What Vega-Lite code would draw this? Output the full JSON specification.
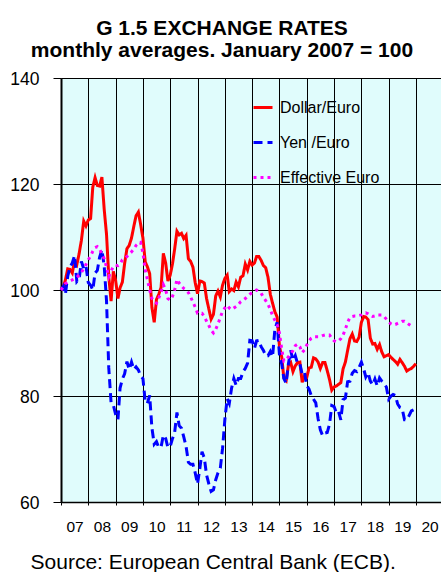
{
"$schema": "https://vega.github.io/schema/vega-lite/v6.json",
"width": 380,
"height": 424,
"autosize": {"type": "none"},
"padding": {"left": 61, "top": 78, "right": 0, "bottom": 70},
"background": "white",
"config": {"view": {"fill": "#e0fcfc", "stroke": null}, "font": "Liberation Sans"},
"title": {"text": ["G 1.5 EXCHANGE RATES", "monthly averages. January 2007 = 100"], "anchor": "start", "align": "center", "frame": "group", "dx": 161, "offset": 9, "font": "Liberation Sans", "fontSize": 21, "fontWeight": "bold", "color": "black", "lineHeight": 22.4},
"data": {"values": [
{"month":"2007-01","Dollar/Euro":100.0,"Yen /Euro":100.0,"Effective Euro":100.0},
{"month":"2007-02","Dollar/Euro":100.6,"Yen /Euro":100.7,"Effective Euro":100.6},
{"month":"2007-03","Dollar/Euro":101.9,"Yen /Euro":99.2,"Effective Euro":101.2},
{"month":"2007-04","Dollar/Euro":104.0,"Yen /Euro":102.6,"Effective Euro":101.5},
{"month":"2007-05","Dollar/Euro":103.9,"Yen /Euro":104.3,"Effective Euro":101.7},
{"month":"2007-06","Dollar/Euro":103.2,"Yen /Euro":105.1,"Effective Euro":101.9},
{"month":"2007-07","Dollar/Euro":105.5,"Yen /Euro":106.5,"Effective Euro":102.1},
{"month":"2007-08","Dollar/Euro":104.8,"Yen /Euro":101.6,"Effective Euro":102.4},
{"month":"2007-09","Dollar/Euro":106.9,"Yen /Euro":102.1,"Effective Euro":102.8},
{"month":"2007-10","Dollar/Euro":109.4,"Yen /Euro":105.4,"Effective Euro":103.3},
{"month":"2007-11","Dollar/Euro":113.0,"Yen /Euro":104.0,"Effective Euro":104.0},
{"month":"2007-12","Dollar/Euro":112.1,"Yen /Euro":104.5,"Effective Euro":104.8},
{"month":"2008-01","Dollar/Euro":113.2,"Yen /Euro":101.4,"Effective Euro":105.7},
{"month":"2008-02","Dollar/Euro":113.5,"Yen /Euro":100.9,"Effective Euro":106.4},
{"month":"2008-03","Dollar/Euro":119.4,"Yen /Euro":100.0,"Effective Euro":107.3},
{"month":"2008-04","Dollar/Euro":121.2,"Yen /Euro":103.2,"Effective Euro":108.0},
{"month":"2008-05","Dollar/Euro":119.7,"Yen /Euro":103.7,"Effective Euro":108.2},
{"month":"2008-06","Dollar/Euro":119.6,"Yen /Euro":106.2,"Effective Euro":107.7},
{"month":"2008-07","Dollar/Euro":121.3,"Yen /Euro":107.6,"Effective Euro":106.8},
{"month":"2008-08","Dollar/Euro":115.2,"Yen /Euro":104.5,"Effective Euro":105.9},
{"month":"2008-09","Dollar/Euro":110.5,"Yen /Euro":97.9,"Effective Euro":104.3},
{"month":"2008-10","Dollar/Euro":102.5,"Yen /Euro":85.3,"Effective Euro":102.5},
{"month":"2008-11","Dollar/Euro":97.9,"Yen /Euro":78.7,"Effective Euro":103.6},
{"month":"2008-12","Dollar/Euro":103.5,"Yen /Euro":78.3,"Effective Euro":104.4},
{"month":"2009-01","Dollar/Euro":101.8,"Yen /Euro":76.5,"Effective Euro":104.7},
{"month":"2009-02","Dollar/Euro":98.4,"Yen /Euro":75.6,"Effective Euro":104.6},
{"month":"2009-03","Dollar/Euro":100.4,"Yen /Euro":81.5,"Effective Euro":104.9},
{"month":"2009-04","Dollar/Euro":101.5,"Yen /Euro":83.2,"Effective Euro":105.7},
{"month":"2009-05","Dollar/Euro":105.0,"Yen /Euro":84.2,"Effective Euro":106.0},
{"month":"2009-06","Dollar/Euro":107.8,"Yen /Euro":86.5,"Effective Euro":106.3},
{"month":"2009-07","Dollar/Euro":108.4,"Yen /Euro":85.0,"Effective Euro":106.8},
{"month":"2009-08","Dollar/Euro":109.8,"Yen /Euro":86.4,"Effective Euro":107.2},
{"month":"2009-09","Dollar/Euro":112.0,"Yen /Euro":85.0,"Effective Euro":107.7},
{"month":"2009-10","Dollar/Euro":114.0,"Yen /Euro":85.5,"Effective Euro":108.4},
{"month":"2009-11","Dollar/Euro":114.7,"Yen /Euro":84.9,"Effective Euro":108.8},
{"month":"2009-12","Dollar/Euro":112.4,"Yen /Euro":83.8,"Effective Euro":109.0},
{"month":"2010-01","Dollar/Euro":109.8,"Yen /Euro":83.3,"Effective Euro":107.0},
{"month":"2010-02","Dollar/Euro":105.3,"Yen /Euro":78.9,"Effective Euro":103.8},
{"month":"2010-03","Dollar/Euro":104.4,"Yen /Euro":78.6,"Effective Euro":102.0},
{"month":"2010-04","Dollar/Euro":103.1,"Yen /Euro":80.1,"Effective Euro":100.0},
{"month":"2010-05","Dollar/Euro":96.7,"Yen /Euro":74.0,"Effective Euro":98.4},
{"month":"2010-06","Dollar/Euro":93.9,"Yen /Euro":70.9,"Effective Euro":97.8},
{"month":"2010-07","Dollar/Euro":98.2,"Yen /Euro":71.4,"Effective Euro":97.5},
{"month":"2010-08","Dollar/Euro":99.2,"Yen /Euro":70.3,"Effective Euro":98.5},
{"month":"2010-09","Dollar/Euro":100.5,"Yen /Euro":70.4,"Effective Euro":99.6},
{"month":"2010-10","Dollar/Euro":106.9,"Yen /Euro":72.6,"Effective Euro":101.0},
{"month":"2010-11","Dollar/Euro":105.1,"Yen /Euro":72.0,"Effective Euro":100.0},
{"month":"2010-12","Dollar/Euro":101.7,"Yen /Euro":70.3,"Effective Euro":98.4},
{"month":"2011-01","Dollar/Euro":102.8,"Yen /Euro":70.5,"Effective Euro":98.1},
{"month":"2011-02","Dollar/Euro":105.0,"Yen /Euro":72.0,"Effective Euro":98.8},
{"month":"2011-03","Dollar/Euro":107.7,"Yen /Euro":73.1,"Effective Euro":100.0},
{"month":"2011-04","Dollar/Euro":111.1,"Yen /Euro":76.9,"Effective Euro":102.0},
{"month":"2011-05","Dollar/Euro":110.4,"Yen /Euro":74.4,"Effective Euro":101.3},
{"month":"2011-06","Dollar/Euro":110.7,"Yen /Euro":73.9,"Effective Euro":100.8},
{"month":"2011-07","Dollar/Euro":109.7,"Yen /Euro":72.3,"Effective Euro":100.3},
{"month":"2011-08","Dollar/Euro":110.3,"Yen /Euro":70.5,"Effective Euro":100.0},
{"month":"2011-09","Dollar/Euro":105.9,"Yen /Euro":67.5,"Effective Euro":99.5},
{"month":"2011-10","Dollar/Euro":105.4,"Yen /Euro":67.1,"Effective Euro":98.7},
{"month":"2011-11","Dollar/Euro":104.3,"Yen /Euro":67.1,"Effective Euro":97.7},
{"month":"2011-12","Dollar/Euro":101.4,"Yen /Euro":65.5,"Effective Euro":96.8},
{"month":"2012-01","Dollar/Euro":99.3,"Yen /Euro":63.4,"Effective Euro":95.6},
{"month":"2012-02","Dollar/Euro":101.7,"Yen /Euro":66.3,"Effective Euro":95.6},
{"month":"2012-03","Dollar/Euro":101.6,"Yen /Euro":69.5,"Effective Euro":95.6},
{"month":"2012-04","Dollar/Euro":101.3,"Yen /Euro":68.3,"Effective Euro":95.0},
{"month":"2012-05","Dollar/Euro":98.4,"Yen /Euro":65.1,"Effective Euro":94.1},
{"month":"2012-06","Dollar/Euro":96.4,"Yen /Euro":63.4,"Effective Euro":93.3},
{"month":"2012-07","Dollar/Euro":94.5,"Yen /Euro":62.0,"Effective Euro":92.4},
{"month":"2012-08","Dollar/Euro":95.4,"Yen /Euro":62.3,"Effective Euro":91.9},
{"month":"2012-09","Dollar/Euro":98.9,"Yen /Euro":64.2,"Effective Euro":92.6},
{"month":"2012-10","Dollar/Euro":99.8,"Yen /Euro":65.5,"Effective Euro":93.6},
{"month":"2012-11","Dollar/Euro":98.7,"Yen /Euro":66.4,"Effective Euro":94.8},
{"month":"2012-12","Dollar/Euro":100.9,"Yen /Euro":70.1,"Effective Euro":96.0},
{"month":"2013-01","Dollar/Euro":102.2,"Yen /Euro":75.6,"Effective Euro":96.6},
{"month":"2013-02","Dollar/Euro":102.8,"Yen /Euro":79.5,"Effective Euro":97.1},
{"month":"2013-03","Dollar/Euro":99.7,"Yen /Euro":78.6,"Effective Euro":96.6},
{"month":"2013-04","Dollar/Euro":100.2,"Yen /Euro":81.5,"Effective Euro":96.3},
{"month":"2013-05","Dollar/Euro":99.9,"Yen /Euro":83.3,"Effective Euro":96.6},
{"month":"2013-06","Dollar/Euro":101.5,"Yen /Euro":82.0,"Effective Euro":96.9},
{"month":"2013-07","Dollar/Euro":100.6,"Yen /Euro":83.3,"Effective Euro":97.3},
{"month":"2013-08","Dollar/Euro":102.4,"Yen /Euro":83.3,"Effective Euro":97.8},
{"month":"2013-09","Dollar/Euro":102.7,"Yen /Euro":84.6,"Effective Euro":98.1},
{"month":"2013-10","Dollar/Euro":104.9,"Yen /Euro":85.2,"Effective Euro":98.4},
{"month":"2013-11","Dollar/Euro":103.8,"Yen /Euro":86.2,"Effective Euro":98.8},
{"month":"2013-12","Dollar/Euro":105.4,"Yen /Euro":90.5,"Effective Euro":99.2},
{"month":"2014-01","Dollar/Euro":104.7,"Yen /Euro":90.4,"Effective Euro":99.5},
{"month":"2014-02","Dollar/Euro":105.1,"Yen /Euro":89.0,"Effective Euro":99.8},
{"month":"2014-03","Dollar/Euro":106.3,"Yen /Euro":90.4,"Effective Euro":100.0},
{"month":"2014-04","Dollar/Euro":106.3,"Yen /Euro":90.5,"Effective Euro":99.7},
{"month":"2014-05","Dollar/Euro":105.6,"Yen /Euro":89.3,"Effective Euro":99.4},
{"month":"2014-06","Dollar/Euro":104.6,"Yen /Euro":88.6,"Effective Euro":98.6},
{"month":"2014-07","Dollar/Euro":104.2,"Yen /Euro":87.6,"Effective Euro":98.0},
{"month":"2014-08","Dollar/Euro":102.4,"Yen /Euro":87.6,"Effective Euro":97.3},
{"month":"2014-09","Dollar/Euro":99.2,"Yen /Euro":88.4,"Effective Euro":96.3},
{"month":"2014-10","Dollar/Euro":97.5,"Yen /Euro":87.4,"Effective Euro":95.2},
{"month":"2014-11","Dollar/Euro":95.9,"Yen /Euro":92.6,"Effective Euro":94.3},
{"month":"2014-12","Dollar/Euro":94.9,"Yen /Euro":93.9,"Effective Euro":93.5},
{"month":"2015-01","Dollar/Euro":89.4,"Yen /Euro":87.8,"Effective Euro":91.9},
{"month":"2015-02","Dollar/Euro":87.3,"Yen /Euro":86.0,"Effective Euro":88.8},
{"month":"2015-03","Dollar/Euro":83.4,"Yen /Euro":83.3,"Effective Euro":86.6},
{"month":"2015-04","Dollar/Euro":82.9,"Yen /Euro":82.4,"Effective Euro":86.8},
{"month":"2015-05","Dollar/Euro":85.8,"Yen /Euro":86.1,"Effective Euro":87.4},
{"month":"2015-06","Dollar/Euro":86.3,"Yen /Euro":88.6,"Effective Euro":87.9},
{"month":"2015-07","Dollar/Euro":84.6,"Yen /Euro":86.7,"Effective Euro":88.6},
{"month":"2015-08","Dollar/Euro":85.7,"Yen /Euro":87.6,"Effective Euro":89.5},
{"month":"2015-09","Dollar/Euro":86.3,"Yen /Euro":86.1,"Effective Euro":89.8},
{"month":"2015-10","Dollar/Euro":86.4,"Yen /Euro":86.1,"Effective Euro":89.3},
{"month":"2015-11","Dollar/Euro":82.6,"Yen /Euro":84.1,"Effective Euro":88.2},
{"month":"2015-12","Dollar/Euro":83.7,"Yen /Euro":84.5,"Effective Euro":88.7},
{"month":"2016-01","Dollar/Euro":83.5,"Yen /Euro":82.0,"Effective Euro":89.6},
{"month":"2016-02","Dollar/Euro":85.3,"Yen /Euro":81.3,"Effective Euro":90.4},
{"month":"2016-03","Dollar/Euro":85.4,"Yen /Euro":80.1,"Effective Euro":90.9},
{"month":"2016-04","Dollar/Euro":87.2,"Yen /Euro":79.4,"Effective Euro":91.2},
{"month":"2016-05","Dollar/Euro":87.0,"Yen /Euro":78.7,"Effective Euro":91.2},
{"month":"2016-06","Dollar/Euro":86.4,"Yen /Euro":75.7,"Effective Euro":91.2},
{"month":"2016-07","Dollar/Euro":85.2,"Yen /Euro":73.6,"Effective Euro":91.2},
{"month":"2016-08","Dollar/Euro":86.3,"Yen /Euro":72.5,"Effective Euro":91.4},
{"month":"2016-09","Dollar/Euro":86.3,"Yen /Euro":73.0,"Effective Euro":91.5},
{"month":"2016-10","Dollar/Euro":84.8,"Yen /Euro":73.1,"Effective Euro":91.5},
{"month":"2016-11","Dollar/Euro":83.1,"Yen /Euro":74.7,"Effective Euro":91.5},
{"month":"2016-12","Dollar/Euro":81.1,"Yen /Euro":78.2,"Effective Euro":90.9},
{"month":"2017-01","Dollar/Euro":81.7,"Yen /Euro":78.0,"Effective Euro":90.4},
{"month":"2017-02","Dollar/Euro":81.9,"Yen /Euro":76.8,"Effective Euro":90.2},
{"month":"2017-03","Dollar/Euro":82.2,"Yen /Euro":77.1,"Effective Euro":90.4},
{"month":"2017-04","Dollar/Euro":82.5,"Yen /Euro":75.5,"Effective Euro":90.8},
{"month":"2017-05","Dollar/Euro":85.1,"Yen /Euro":79.3,"Effective Euro":91.5},
{"month":"2017-06","Dollar/Euro":86.4,"Yen /Euro":79.6,"Effective Euro":92.6},
{"month":"2017-07","Dollar/Euro":88.6,"Yen /Euro":82.7,"Effective Euro":93.9},
{"month":"2017-08","Dollar/Euro":90.8,"Yen /Euro":82.8,"Effective Euro":94.8},
{"month":"2017-09","Dollar/Euro":91.7,"Yen /Euro":84.3,"Effective Euro":95.0},
{"month":"2017-10","Dollar/Euro":90.4,"Yen /Euro":84.8,"Effective Euro":95.1},
{"month":"2017-11","Dollar/Euro":90.3,"Yen /Euro":84.6,"Effective Euro":95.1},
{"month":"2017-12","Dollar/Euro":91.1,"Yen /Euro":85.4,"Effective Euro":95.2},
{"month":"2018-01","Dollar/Euro":93.9,"Yen /Euro":86.4,"Effective Euro":95.3},
{"month":"2018-02","Dollar/Euro":95.0,"Yen /Euro":85.1,"Effective Euro":95.6},
{"month":"2018-03","Dollar/Euro":94.9,"Yen /Euro":83.6,"Effective Euro":95.7},
{"month":"2018-04","Dollar/Euro":94.4,"Yen /Euro":84.4,"Effective Euro":95.5},
{"month":"2018-05","Dollar/Euro":90.9,"Yen /Euro":82.8,"Effective Euro":95.2},
{"month":"2018-06","Dollar/Euro":89.8,"Yen /Euro":82.1,"Effective Euro":95.0},
{"month":"2018-07","Dollar/Euro":89.9,"Yen /Euro":83.2,"Effective Euro":95.1},
{"month":"2018-08","Dollar/Euro":88.8,"Yen /Euro":81.9,"Effective Euro":95.3},
{"month":"2018-09","Dollar/Euro":89.7,"Yen /Euro":83.4,"Effective Euro":95.3},
{"month":"2018-10","Dollar/Euro":88.3,"Yen /Euro":82.8,"Effective Euro":95.3},
{"month":"2018-11","Dollar/Euro":87.4,"Yen /Euro":82.3,"Effective Euro":95.0},
{"month":"2018-12","Dollar/Euro":87.6,"Yen /Euro":81.7,"Effective Euro":94.5},
{"month":"2019-01","Dollar/Euro":87.8,"Yen /Euro":79.4,"Effective Euro":94.0},
{"month":"2019-02","Dollar/Euro":87.3,"Yen /Euro":80.0,"Effective Euro":93.6},
{"month":"2019-03","Dollar/Euro":86.9,"Yen /Euro":80.3,"Effective Euro":93.4},
{"month":"2019-04","Dollar/Euro":86.5,"Yen /Euro":80.1,"Effective Euro":93.5},
{"month":"2019-05","Dollar/Euro":86.0,"Yen /Euro":78.5,"Effective Euro":93.7},
{"month":"2019-06","Dollar/Euro":86.9,"Yen /Euro":77.8,"Effective Euro":93.9},
{"month":"2019-07","Dollar/Euro":86.3,"Yen /Euro":77.6,"Effective Euro":94.1},
{"month":"2019-08","Dollar/Euro":85.6,"Yen /Euro":75.5,"Effective Euro":94.1},
{"month":"2019-09","Dollar/Euro":84.7,"Yen /Euro":75.5,"Effective Euro":93.8},
{"month":"2019-10","Dollar/Euro":85.0,"Yen /Euro":76.3,"Effective Euro":93.5},
{"month":"2019-11","Dollar/Euro":85.2,"Yen /Euro":77.2,"Effective Euro":93.2},
{"month":"2019-12","Dollar/Euro":85.6,"Yen /Euro":77.4,"Effective Euro":93.0},
{"month":"2020-01","Dollar/Euro":86.1}
]},
"transform": [{"fold": ["Dollar/Euro", "Yen /Euro", "Effective Euro"], "as": ["series", "value"]}],
"mark": {"type": "line", "strokeWidth": 3},
"encoding": {
  "x": {"field": "month", "type": "temporal",
    "scale": {"type": "utc", "nice": false, "domain": [{"year": 2007, "month": 1, "date": 1, "utc": true}, {"year": 2020, "month": 12, "date": 1, "utc": true}]},
    "axis": {"title": "Source: European Central Bank (ECB).", "tickCount": {"interval": "year", "step": 1}, "format": "%y", "labelOffset": 13.6, "labelAlign": "center", "labelFlush": false, "labelOverlap": false, "labelBaseline": "top", "labelPadding": 14, "labelFontSize": 15.5, "labelFont": "Liberation Sans", "labelColor": "black",
      "grid": true, "gridColor": "black", "gridWidth": 1, "gridOpacity": 1,
      "domainColor": "black", "domainWidth": 1.5, "tickColor": "black", "tickSize": 3, "tickWidth": 1,
      "titleFont": "Liberation Sans", "titleFontSize": 21, "titleFontWeight": "normal", "titleColor": "black", "titleX": 151.7, "titleY": 66, "titleAlign": "center", "titleBaseline": "alphabetic", "titleAnchor": null}},
  "y": {"field": "value", "type": "quantitative",
    "scale": {"domain": [60, 140], "nice": false, "zero": false},
    "axis": {"title": null, "values": [60, 80, 100, 120, 140], "grid": true, "gridColor": "black", "gridWidth": 1, "gridOpacity": 1,
      "domainColor": "black", "domainWidth": 2, "tickColor": "black", "tickSize": 8, "tickWidth": 1,
      "labelFontSize": 17.5, "labelFont": "Liberation Sans", "labelColor": "black", "labelPadding": 14, "labelOffset": 1.5}},
  "color": {"field": "series", "type": "nominal",
    "scale": {"domain": ["Dollar/Euro", "Yen /Euro", "Effective Euro"], "range": ["#ff0000", "#0000ff", "#ff00ff"]},
    "legend": {"orient": "none", "legendX": 191, "legendY": 18.5, "title": null, "symbolType": "stroke", "symbolSize": 361, "symbolStrokeWidth": 3, "labelFontSize": 16, "labelFont": "Liberation Sans", "labelColor": "black", "rowPadding": 16, "labelOffset": 6, "padding": 0}},
  "strokeDash": {"field": "series", "type": "nominal",
    "scale": {"domain": ["Dollar/Euro", "Yen /Euro", "Effective Euro"], "range": [[1, 0], [9, 5], [3, 4]]},
    "legend": {"orient": "none", "legendX": 191, "legendY": 18.5, "title": null, "symbolType": "stroke", "symbolSize": 361, "symbolStrokeWidth": 3, "labelFontSize": 16, "labelFont": "Liberation Sans", "labelColor": "black", "rowPadding": 16, "labelOffset": 6, "padding": 0}}
}
}
